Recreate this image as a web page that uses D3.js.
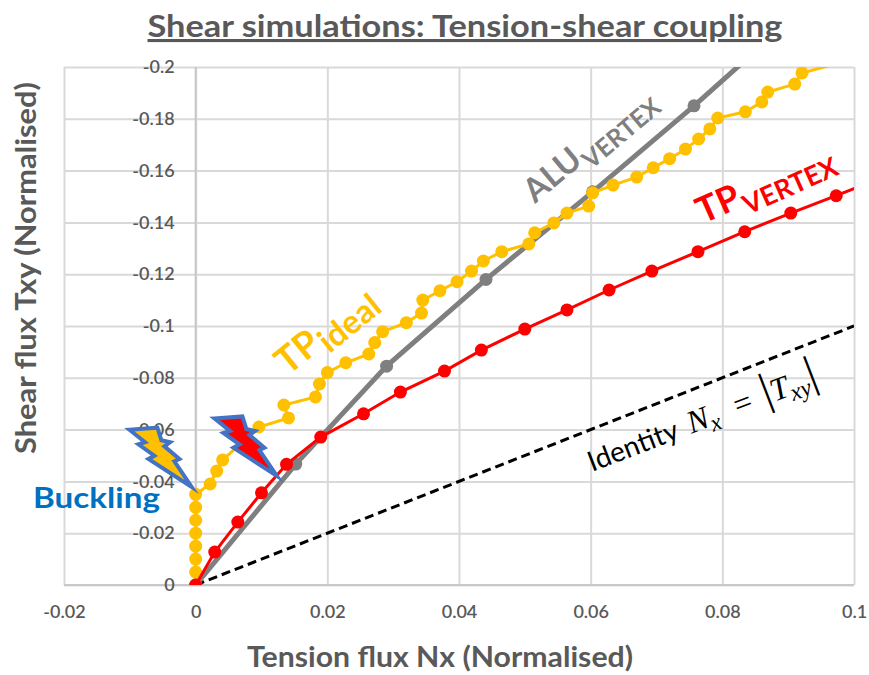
<!doctype html>
<html>
<head>
    <meta charset="utf-8">
    <title>Shear simulations: Tension-shear coupling</title>
    <script src="https://cdn.jsdelivr.net/npm/d3@7"></script>
    <style>
        body { margin: 0; background: #fff; }
        svg { display: block; font-family: Lato, sans-serif; }
        .grid line { stroke: #d9d9d9; stroke-width: 2; }
        .grid path { display: none; }
        .ticks path, .ticks line { display: none; }
        .ticks text { font-size: 18px; font-weight: 600; fill: #595959; font-family: Lato, sans-serif; }
    </style>
</head>
<body>
<script>
    "use strict";

    const xTicks = [-0.02, 0, 0.02, 0.04, 0.06, 0.08, 0.1];
    const yTicks = [0, -0.02, -0.04, -0.06, -0.08, -0.1, -0.12, -0.14, -0.16, -0.18, -0.2];

    const identityX = [0, 0.1];
    const identityY = [0, -0.1];

    const aluX = [0, 0.0152, 0.029, 0.0441, 0.0603, 0.0757, 0.0888];
    const aluY = [0, -0.0467, -0.0845, -0.118, -0.1518, -0.185, -0.2147];

    const idealX = [0, 0, 0, 0, 0, 0, 0, 0, 0.0022, 0.0032, 0.0041, 0.0096, 0.0141, 0.0134, 0.0182, 0.0188,
        0.02, 0.0228, 0.0263, 0.0272, 0.0284, 0.032, 0.0343, 0.0345, 0.0371, 0.0397, 0.0419, 0.0437,
        0.0465, 0.0506, 0.0515, 0.0544, 0.0564, 0.0597, 0.0603, 0.0634, 0.067, 0.0695, 0.072, 0.0744,
        0.0764, 0.0781, 0.0793, 0.0835, 0.086, 0.0869, 0.091, 0.0921, 0.0994];
    const idealY = [0, -0.005, -0.01, -0.015, -0.02, -0.025, -0.03, -0.035, -0.039, -0.044, -0.0483, -0.061, -0.0645, -0.0695, -0.0726, -0.0776,
        -0.082, -0.0858, -0.0892, -0.0936, -0.0978, -0.1013, -0.105, -0.11, -0.1136, -0.1171, -0.1212, -0.1251,
        -0.1287, -0.1317, -0.136, -0.1398, -0.1436, -0.1463, -0.1514, -0.1544, -0.1575, -0.1611, -0.1646, -0.1683,
        -0.1722, -0.1761, -0.1803, -0.1827, -0.1865, -0.1903, -0.1934, -0.1977, -0.2027];

    const vertexX = [0, 0.0029, 0.0064, 0.01, 0.0138, 0.019, 0.0255, 0.0311, 0.0378, 0.0434, 0.05, 0.0564,
        0.0628, 0.0693, 0.0763, 0.0834, 0.0904, 0.0973, 0.104];
    const vertexY = [0, -0.0127, -0.0243, -0.0356, -0.0466, -0.0571, -0.0661, -0.0745, -0.0826, -0.0907, -0.0988, -0.1062,
        -0.1139, -0.1212, -0.1287, -0.1364, -0.1436, -0.1503, -0.1571];

    const width = 869;
    const height = 675;
    const margin = ({ top: 67, right: 15, bottom: 90, left: 64 });

    const x = d3.scaleLinear()
        .domain([-0.02, 0.1])
        .range([margin.left, width - margin.right]);

    const y = d3.scaleLinear()
        .domain([0, -0.2])
        .range([height - margin.bottom, margin.top]);

    const svg = d3.select("body").append("svg")
        .attr("width", width)
        .attr("height", height)
        .attr("viewBox", [0, 0, width, height]);

    svg.append("defs").append("clipPath")
        .attr("id", "plot")
        .append("rect")
        .attr("x", margin.left)
        .attr("y", margin.top)
        .attr("width", width - margin.left - margin.right)
        .attr("height", height - margin.top - margin.bottom);

    // gridlines
    svg.append("g")
        .attr("class", "grid")
        .attr("transform", `translate(0,${y(0)})`)
        .call(d3.axisBottom(x).tickValues(xTicks).tickSize(-(y(0) - y(-0.2))).tickFormat(""));

    svg.append("g")
        .attr("class", "grid")
        .attr("transform", `translate(${margin.left},0)`)
        .call(d3.axisLeft(y).tickValues(yTicks).tickSize(-(x(0.1) - x(-0.02))).tickFormat(""));

    svg.append("line")
        .attr("x1", x(0)).attr("x2", x(0))
        .attr("y1", y(-0.2)).attr("y2", y(0))
        .attr("stroke", "#c8c8c8").attr("stroke-width", 2);
    svg.append("line")
        .attr("x1", x(-0.02)).attr("x2", x(0.1))
        .attr("y1", y(0)).attr("y2", y(0))
        .attr("stroke", "#c8c8c8").attr("stroke-width", 2);

    // tick labels
    const fmt = d => d === 0 ? "0" : String(d);

    svg.append("g")
        .attr("class", "ticks")
        .attr("transform", `translate(0,${y(0)})`)
        .call(d3.axisBottom(x).tickValues(xTicks).tickSize(0).tickPadding(20).tickFormat(fmt));

    svg.append("g")
        .attr("class", "ticks")
        .attr("transform", `translate(${x(0)},0)`)
        .call(d3.axisLeft(y).tickValues(yTicks).tickSize(0).tickPadding(21).tickFormat(fmt));

    // series
    const zip = (xs, ys) => xs.map((v, i) => [v, ys[i]]);
    const line = d3.line().x(d => x(d[0])).y(d => y(d[1]));
    const plot = svg.append("g").attr("clip-path", "url(#plot)");

    plot.append("path")
        .datum(zip(identityX, identityY))
        .attr("fill", "none")
        .attr("stroke", "#000")
        .attr("stroke-width", 3)
        .attr("stroke-dasharray", "9,5")
        .attr("d", line);

    function series(xs, ys, color, strokeWidth) {
        const pts = zip(xs, ys);
        plot.append("path")
            .datum(pts)
            .attr("fill", "none")
            .attr("stroke", color)
            .attr("stroke-width", strokeWidth)
            .attr("d", line);
        plot.append("g")
            .selectAll("circle")
            .data(pts)
            .join("circle")
            .attr("cx", d => x(d[0]))
            .attr("cy", d => y(d[1]))
            .attr("r", 6.5)
            .attr("fill", color);
    }

    series(aluX, aluY, "#7f7f7f", 5);
    series(idealX, idealY, "#ffc000", 3);
    series(vertexX, vertexY, "#ff0000", 3);

    // lightning bolts, outline relative to the tip
    const bolt = [[-62.3, -57.3], [-34.3, -59.3], [-30.3, -46.7], [-21.7, -44.7], [-27.3, -40.7], [-12.3, -28],
        [-17.3, -25.7], [0, 0], [-43.3, -28], [-37.3, -31.3], [-53.3, -42.7], [-46.7, -44.7]];

    svg.selectAll("polygon.bolt")
        .data([{ at: [191.7, 487], fill: "#ffc000" }, { at: [276.7, 475.7], fill: "#ff0000" }])
        .join("polygon")
        .attr("class", "bolt")
        .attr("transform", d => `translate(${d.at})`)
        .attr("points", bolt.join(" "))
        .attr("fill", d => d.fill)
        .attr("stroke", "#4472c4")
        .attr("stroke-width", 4)
        .attr("stroke-linejoin", "miter")
        .attr("stroke-miterlimit", 10);

    // titles
    svg.append("text")
        .attr("x", 465).attr("y", 37)
        .attr("text-anchor", "middle")
        .attr("font-size", 31).attr("font-weight", 700)
        .attr("fill", "#595959")
        .attr("text-decoration", "underline")
        .attr("textLength", 635).attr("lengthAdjust", "spacingAndGlyphs")
        .text("Shear simulations: Tension-shear coupling");

    svg.append("text")
        .attr("x", 440).attr("y", 667)
        .attr("text-anchor", "middle")
        .attr("font-size", 28).attr("font-weight", 700)
        .attr("fill", "#595959")
        .attr("textLength", 386).attr("lengthAdjust", "spacingAndGlyphs")
        .text("Tension flux Nx (Normalised)");

    svg.append("text")
        .attr("transform", "translate(36,268) rotate(-90)")
        .attr("text-anchor", "middle")
        .attr("font-size", 28).attr("font-weight", 700)
        .attr("fill", "#595959")
        .attr("textLength", 372).attr("lengthAdjust", "spacingAndGlyphs")
        .text("Shear flux Txy (Normalised)");

    svg.append("text")
        .attr("x", 33).attr("y", 508)
        .attr("font-size", 28).attr("font-weight", 700)
        .attr("fill", "#0070c0")
        .attr("textLength", 127).attr("lengthAdjust", "spacingAndGlyphs")
        .text("Buckling");

    // curve labels
    function curveLabel(px, py, angle, color, big, bigSize, sub, subSize, subDx, subDy) {
        const t = svg.append("text")
            .attr("transform", `translate(${px},${py}) rotate(${angle})`)
            .attr("fill", color)
            .attr("font-weight", 700);
        t.append("tspan").attr("font-size", bigSize).text(big);
        t.append("tspan").attr("font-size", subSize).attr("dx", subDx).attr("dy", subDy).text(sub);
    }

    curveLabel(288, 376, -39, "#ffc000", "TP", 37, "ideal", 33, 1, 9);
    curveLabel(535, 204, -40, "#7f7f7f", "ALU", 33, "VERTEX", 25, 1, 10);
    curveLabel(703, 224, -24, "#ff0000", "TP", 36, "VERTEX", 27, 1, 10);

    // identity label
    const ident = svg.append("text")
        .attr("transform", "translate(592,472) rotate(-21)")
        .attr("fill", "#000")
        .attr("font-size", 28);
    ident.append("tspan").text("Identity ");
    const math = s => ident.append("tspan")
        .attr("font-family", "'Liberation Serif', serif")
        .attr("font-style", "italic")
        .attr("font-size", 32)
        .text(s);
    math("N").attr("dx", 5);
    math("x").attr("font-size", 24).attr("dy", 6);
    math(" = ").attr("dx", 10).attr("dy", -6).attr("font-style", "normal");
    math("|").attr("dx", 4).attr("font-size", 46).attr("font-style", "normal").attr("font-weight", 400);
    math("T");
    math("xy").attr("font-size", 24).attr("dy", 6);
    math("|").attr("font-size", 46).attr("dy", -6).attr("font-style", "normal");
</script>
</body>
</html>
